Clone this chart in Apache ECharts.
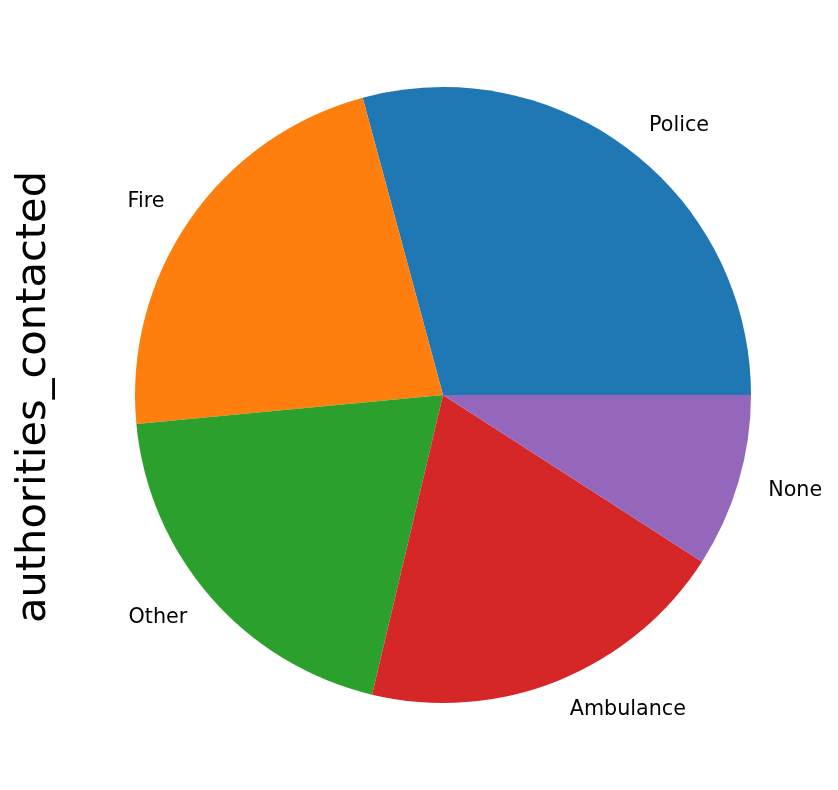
<!DOCTYPE html>
<html>
<head>
<meta charset="utf-8">
<script src="https://cdn.jsdelivr.net/npm/echarts@6/dist/echarts.min.js"></script>
<style>
  html, body { margin: 0; padding: 0; background: #fff; }
  #chart { width: 838px; height: 790px; }
</style>
</head>
<body>
<div id="chart"></div>
<script>
  // authorities_contacted counts
  var categories = ['Police', 'Fire', 'Other', 'Ambulance', 'None']
  var counts = [292, 223, 198, 196, 91]
  var colors = ['#1f77b4', '#ff7f0e', '#2ca02c', '#d62728', '#9467bd']

  var pieData = categories.map(function (name, i) {
    return { name: name, value: counts[i], itemStyle: { color: colors[i] } }
  })

  var chart = echarts.init(document.getElementById('chart'))
  chart.setOption({
    backgroundColor: '#fff',
    animation: false,
    graphic: [{
      type: 'text',
      x: 34,
      y: 397,
      rotation: Math.PI / 2,
      style: {
        text: 'authorities_contacted',
        font: '41.6px "DejaVu Sans"',
        fill: '#000',
        align: 'center',
        verticalAlign: 'middle'
      }
    }],
    series: [{
      type: 'pie',
      center: [443, 395],
      radius: 308,
      startAngle: 0,
      clockwise: false,
      minAngle: 0,
      avoidLabelOverlap: false,
      data: pieData,
      itemStyle: { borderWidth: 0 },
      label: {
        show: true,
        position: 'outside',
        color: '#000',
        fontFamily: 'DejaVu Sans',
        fontSize: 20.7,
        distanceToLabelLine: 0
      },
      labelLine: { show: false, length: 31, length2: 0 }
    }]
  })
</script>
</body>
</html>
